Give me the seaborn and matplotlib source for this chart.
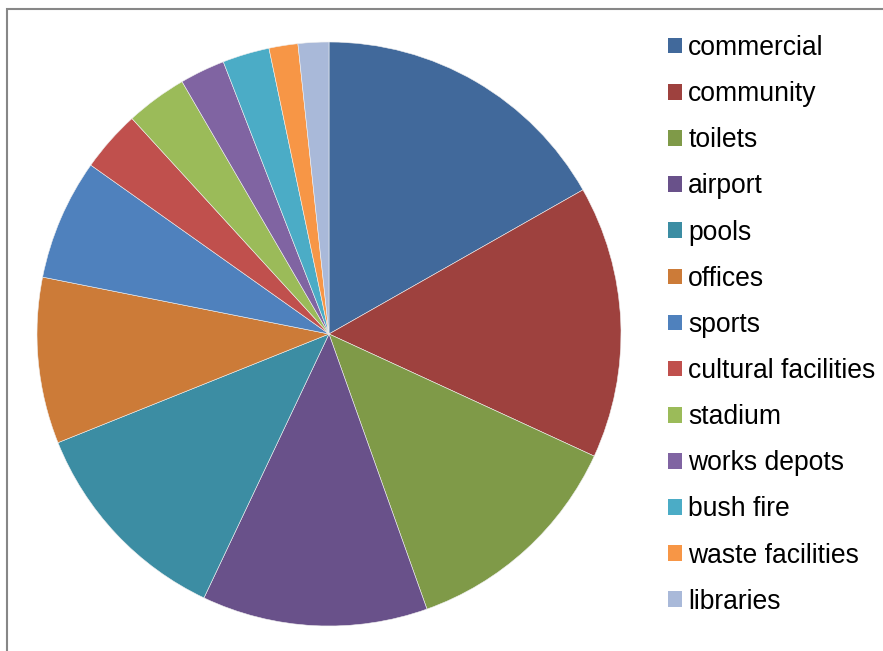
import matplotlib
matplotlib.use("Agg")
import matplotlib.pyplot as plt
from matplotlib.patches import Patch, Rectangle
import seaborn as sns

# Share of facilities by category (percent)
categories = ["commercial", "community", "toilets", "airport", "pools", "offices",
              "sports", "cultural facilities", "stadium", "works depots",
              "bush fire", "waste facilities", "libraries"]
shares = [16.8, 15.1, 12.7, 12.5, 11.9, 9.2, 6.7, 3.4, 3.4, 2.5, 2.6, 1.6, 1.7]
colors = ["#41699B", "#9E413E", "#7F9A48", "#69518A", "#3C8DA3", "#CC7B38",
          "#4F81BD", "#C0504D", "#9BBB59", "#8064A2", "#4BACC6", "#F79646",
          "#A9B9D9"]

sns.set_theme(style="white")
plt.rcParams["font.family"] = ["Liberation Sans", "DejaVu Sans"]

W, H, DPI = 883, 651, 100
fig = plt.figure(figsize=(W / DPI, H / DPI), dpi=DPI)
fig.patch.set_facecolor("white")

# chart-area frame (only top and left edges fall inside the image)
fig.patches.append(Rectangle((6.5 / W, -0.1), 1.2, (H - 9.5) / H + 0.1,
                             transform=fig.transFigure, fill=False,
                             edgecolor="#878787", linewidth=1.5))

ax = fig.add_axes([37 / W, 25 / H, 584 / W, 584 / H])
wedges, _ = ax.pie(shares, colors=colors, startangle=90, counterclock=False,
                   wedgeprops=dict(edgecolor="#f0f0f0", linewidth=0.4))
ax.set_xlim(-1, 1)
ax.set_ylim(-1, 1)
ax.set_aspect("equal")
ax.axis("off")

handles = [Patch(facecolor=c, edgecolor="none") for c in colors]
fs = 26.5 * 72 / DPI
fig.legend(handles, categories, loc="upper left",
           bbox_to_anchor=(668 / W, 1 - 35 / H), frameon=False,
           fontsize=fs, handlelength=0.53, handleheight=0.53,
           handletextpad=0.23, labelspacing=0.76, borderpad=0,
           borderaxespad=0, labelcolor="black")

fig.savefig("out.png", dpi=DPI)
